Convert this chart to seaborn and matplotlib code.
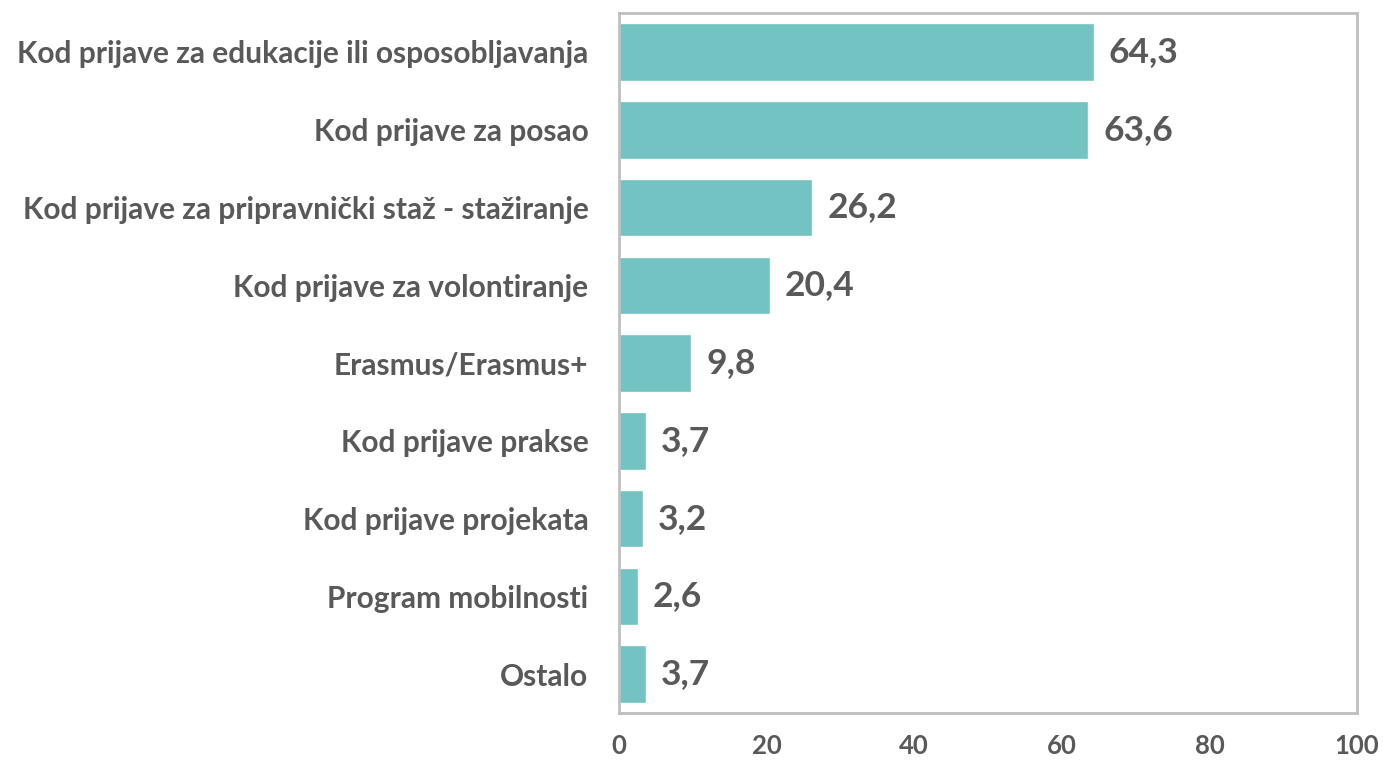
import matplotlib
matplotlib.use("Agg")
import matplotlib.pyplot as plt
import seaborn as sns
import pandas as pd

# data
kategorije = [
    "Kod prijave za edukacije ili osposobljavanja",
    "Kod prijave za posao",
    "Kod prijave za pripravnički staž - stažiranje",
    "Kod prijave za volontiranje",
    "Erasmus/Erasmus+",
    "Kod prijave prakse",
    "Kod prijave projekata",
    "Program mobilnosti",
    "Ostalo",
]
postotci = [64.3, 63.6, 26.2, 20.4, 9.8, 3.7, 3.2, 2.6, 3.7]
x_ticks = [0, 20, 40, 60, 80, 100]

sns.set_style("white")
plt.rcParams["font.family"] = ["Lato", "DejaVu Sans"]

boja = "#72C3C1"
tekst = "#595959"

df = pd.DataFrame({"kat": kategorije, "val": postotci})

fig = plt.figure(figsize=(13.83, 7.6), dpi=100)
ax = fig.add_axes([0.4476, 0.0618, 0.5336, 0.921])

sns.barplot(data=df, x="val", y="kat", color=boja, saturation=1, width=0.74, ax=ax)

for i, v in enumerate(postotci):
    ax.text(v + 2.0, i, "{:.1f}".format(v).replace(".", ","), va="center", ha="left",
            fontsize=25.5, fontweight="bold", color=tekst)

ax.set_xlim(0, 100)
ax.set_ylim(8.5, -0.5)
ax.set_xticks(x_ticks)
ax.set_xticklabels([str(t) for t in x_ticks])
ax.set_xlabel("")
ax.set_ylabel("")
ax.tick_params(axis="x", length=0, pad=15, labelsize=18.5, labelcolor=tekst)
ax.tick_params(axis="y", length=0, pad=22, labelsize=21.5, labelcolor=tekst)
for lab in ax.get_xticklabels() + ax.get_yticklabels():
    lab.set_fontweight("bold")
for s in ax.spines.values():
    s.set_visible(True)
    s.set_color("#BFBFBF")
    s.set_linewidth(2)

fig.savefig("out.png", dpi=100)
